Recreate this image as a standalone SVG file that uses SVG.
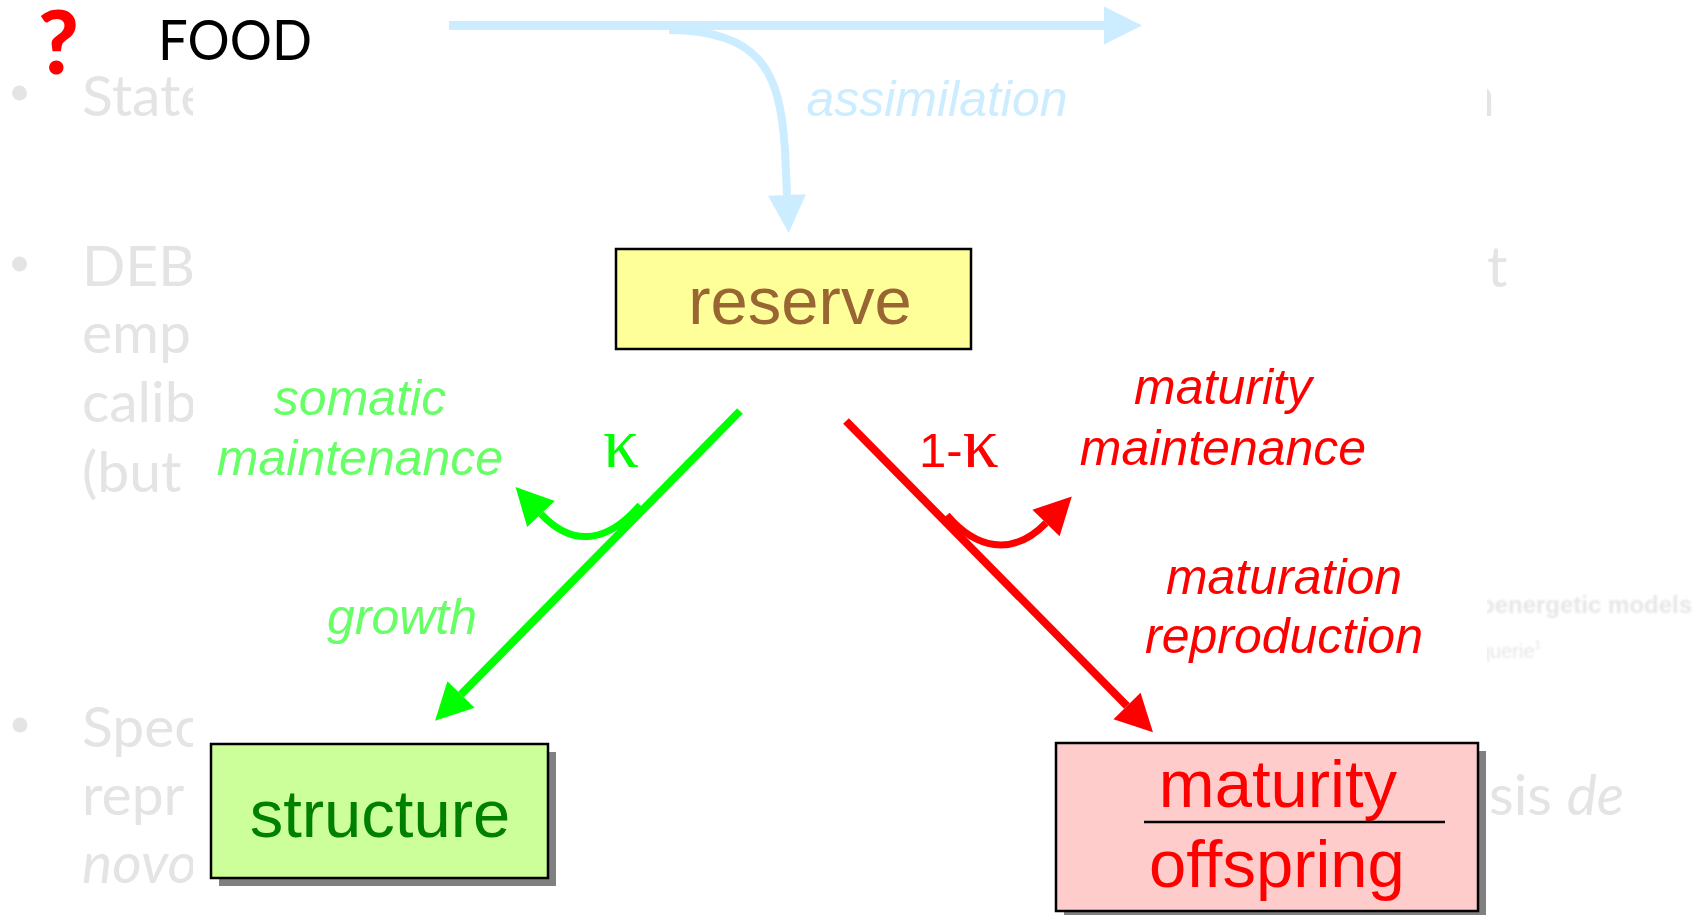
<svg xmlns="http://www.w3.org/2000/svg" width="1703" height="915" viewBox="0 0 1703 915">
  <defs>
    <style>
      .bg { fill: #E4E4E4; font-family: Lato, "Open Sans", sans-serif; font-size: 57px; }
      .bg-small { fill: #E6E6E6; font-family: "Liberation Sans", Arial, sans-serif; }
      .bullet { fill: #E4E4E4; }
      .box { stroke: #000000; stroke-width: 2.5; }
      .shadow { fill: #808080; }
      .node-text { font-family: "Liberation Sans", Arial, sans-serif; font-size: 67px; text-anchor: middle; }
      .flow { font-family: "Liberation Sans", Arial, sans-serif; font-size: 50px; font-style: italic; text-anchor: middle; }
      .kappa { font-family: "Liberation Serif", "Times New Roman", serif; }
      .blue { stroke: #CCECFF; fill: none; }
      .green { stroke: #00FF00; fill: none; }
      .red { stroke: #FF0000; fill: none; }
    </style>
    <marker id="headBlue" markerUnits="userSpaceOnUse" markerWidth="40" markerHeight="40" refX="0" refY="0" orient="auto" overflow="visible">
      <path d="M0,-19 L38,0 L0,19 Z" fill="#CCECFF"/>
    </marker>
    <marker id="headGreen" markerUnits="userSpaceOnUse" markerWidth="40" markerHeight="40" refX="0" refY="0" orient="auto" overflow="visible">
      <path d="M0,-19 L37,0 L0,19 Z" fill="#00FF00"/>
    </marker>
    <marker id="headRed" markerUnits="userSpaceOnUse" markerWidth="40" markerHeight="40" refX="0" refY="0" orient="auto" overflow="visible">
      <path d="M0,-19 L37,0 L0,19 Z" fill="#FF0000"/>
    </marker>
    <clipPath id="clipLeft"><rect x="0" y="0" width="193" height="915"/></clipPath>
    <clipPath id="clipRight"><rect x="1487" y="0" width="216" height="915"/></clipPath>
    <filter id="soft" x="-5%" y="-20%" width="110%" height="140%">
      <feGaussianBlur stdDeviation="0.8"/>
    </filter>
  </defs>

  <rect x="0" y="0" width="1703" height="915" fill="#FFFFFF"/>

  <!-- faded slide text behind the diagram panel -->
  <g id="slide-text">
    <circle class="bullet" cx="19.5" cy="93" r="7.5"/>
    <circle class="bullet" cx="19.5" cy="264" r="7.5"/>
    <circle class="bullet" cx="20" cy="725" r="7.5"/>
    <g clip-path="url(#clipLeft)">
      <text class="bg" x="82" y="116">State</text>
      <text class="bg" x="82" y="286">DEB</text>
      <text class="bg" x="82" y="353">emp</text>
      <text class="bg" x="82" y="422">calib</text>
      <text class="bg" x="82" y="492">(but</text>
      <text class="bg" x="82" y="747">Spec</text>
      <text class="bg" x="82" y="815">repr</text>
      <text class="bg" x="82" y="883" font-style="italic">novo</text>
    </g>
    <g clip-path="url(#clipRight)">
      <text class="bg" x="1463" y="116">n</text>
      <text class="bg" x="1487" y="287">t</text>
      <text class="bg" x="1489" y="815">sis <tspan font-style="italic">de</tspan></text>
      <g filter="url(#soft)">
        <text class="bg-small" x="1480" y="613" font-size="24" font-weight="bold">oenergetic models</text>
        <text class="bg-small" x="1479" y="658" font-size="20">querie<tspan font-size="12" dy="-9">1</tspan></text>
      </g>
    </g>
  </g>

  <g id="connectors">
    <!-- food stream and assimilation branch into reserve -->
    <line class="blue" x1="449" y1="25.5" x2="1104" y2="25.5" stroke-width="9" marker-end="url(#headBlue)"/>
    <path class="blue" d="M 669 30 C 760 31, 780 70, 785 150 L 787 195" stroke-width="8" marker-end="url(#headBlue)"/>
    <!-- kappa branch: growth to structure, somatic maintenance -->
    <line class="green" x1="740" y1="411" x2="461" y2="694.5" stroke-width="8" marker-end="url(#headGreen)"/>
    <path class="green" d="M 640 505 C 610 540, 575 550, 541 514" stroke-width="7" marker-end="url(#headGreen)"/>
    <!-- 1-kappa branch: maturation/reproduction, maturity maintenance -->
    <line class="red" x1="846" y1="421" x2="1127" y2="706" stroke-width="8" marker-end="url(#headRed)"/>
    <path class="red" d="M 947 515 C 975 548, 1012 558, 1046 523" stroke-width="7" marker-end="url(#headRed)"/>
  </g>

  <g id="food">
    <text x="38" y="74" fill="#FF0000" font-family="Lato, 'Open Sans', sans-serif" font-size="88" font-weight="900">?</text>
    <text x="158" y="60" fill="#000000" font-family="Lato, 'Open Sans', sans-serif" font-size="57" textLength="154" lengthAdjust="spacingAndGlyphs">FOOD</text>
  </g>

  <g id="reserve">
    <rect class="box" x="616" y="249" width="355" height="100" fill="#FFFF99"/>
    <text class="node-text" x="800" y="324" fill="#996633">reserve</text>
  </g>

  <g id="structure">
    <rect class="shadow" x="219" y="752" width="337" height="134"/>
    <rect class="box" x="211" y="744" width="337" height="134" fill="#CCFF99"/>
    <text class="node-text" x="380" y="837" fill="#008000">structure</text>
  </g>

  <g id="maturity-offspring">
    <rect class="shadow" x="1064" y="751" width="422" height="168"/>
    <rect class="box" x="1056" y="743" width="422" height="168" fill="#FFCCCC"/>
    <text class="node-text" x="1278" y="807" fill="#FF0000">maturity</text>
    <line x1="1144" y1="822" x2="1445" y2="822" stroke="#000000" stroke-width="2.5"/>
    <text class="node-text" x="1277" y="887" fill="#FF0000">offspring</text>
  </g>

  <g id="flow-labels">
    <text class="flow" x="937" y="116" fill="#CCECFF">assimilation</text>
    <text class="flow" x="360" y="415" fill="#66FF66">somatic</text>
    <text class="flow" x="360" y="475" fill="#66FF66">maintenance</text>
    <text class="flow" x="402" y="634" fill="#66FF66">growth</text>
    <text class="flow" x="1223" y="404" fill="#FF0000">maturity</text>
    <text class="flow" x="1223" y="465" fill="#FF0000">maintenance</text>
    <text class="flow" x="1284" y="594" fill="#FF0000">maturation</text>
    <text class="flow" x="1284" y="653" fill="#FF0000">reproduction</text>
    <text class="kappa" x="603" y="467" font-size="72" fill="#00FF00" textLength="36" lengthAdjust="spacingAndGlyphs">κ</text>
    <text x="919" y="467" font-family="'Liberation Sans', Arial, sans-serif" font-size="49" fill="#FF0000">1-<tspan class="kappa" font-size="72">κ</tspan></text>
  </g>
</svg>
